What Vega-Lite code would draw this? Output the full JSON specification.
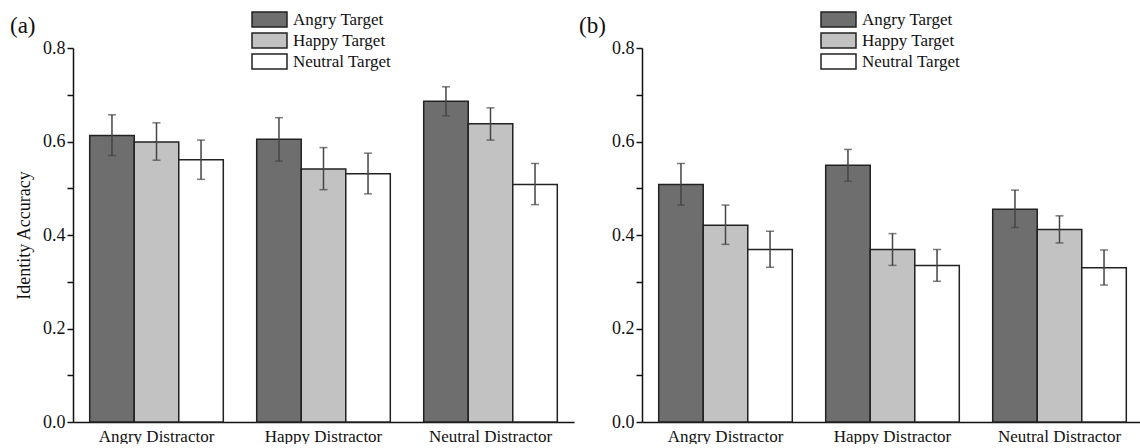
{
  "$schema": "https://vega.github.io/schema/vega-lite/v6.json",
  "padding": {"left": 10, "top": 10, "right": 0, "bottom": 0},
  "background": "white",
  "datasets": {
    "a": [
      {"distractor": "Angry Distractor", "target": "Angry Target", "value": 0.613, "lo": 0.570, "hi": 0.657},
      {"distractor": "Angry Distractor", "target": "Happy Target", "value": 0.599, "lo": 0.560, "hi": 0.640},
      {"distractor": "Angry Distractor", "target": "Neutral Target", "value": 0.561, "lo": 0.519, "hi": 0.603},
      {"distractor": "Happy Distractor", "target": "Angry Target", "value": 0.605, "lo": 0.558, "hi": 0.651},
      {"distractor": "Happy Distractor", "target": "Happy Target", "value": 0.541, "lo": 0.497, "hi": 0.587},
      {"distractor": "Happy Distractor", "target": "Neutral Target", "value": 0.531, "lo": 0.488, "hi": 0.575},
      {"distractor": "Neutral Distractor", "target": "Angry Target", "value": 0.686, "lo": 0.655, "hi": 0.717},
      {"distractor": "Neutral Distractor", "target": "Happy Target", "value": 0.638, "lo": 0.603, "hi": 0.672},
      {"distractor": "Neutral Distractor", "target": "Neutral Target", "value": 0.508, "lo": 0.465, "hi": 0.553}
    ],
    "b": [
      {"distractor": "Angry Distractor", "target": "Angry Target", "value": 0.508, "lo": 0.464, "hi": 0.553},
      {"distractor": "Angry Distractor", "target": "Happy Target", "value": 0.421, "lo": 0.380, "hi": 0.464},
      {"distractor": "Angry Distractor", "target": "Neutral Target", "value": 0.369, "lo": 0.331, "hi": 0.408},
      {"distractor": "Happy Distractor", "target": "Angry Target", "value": 0.549, "lo": 0.515, "hi": 0.583},
      {"distractor": "Happy Distractor", "target": "Happy Target", "value": 0.369, "lo": 0.335, "hi": 0.403},
      {"distractor": "Happy Distractor", "target": "Neutral Target", "value": 0.335, "lo": 0.301, "hi": 0.369},
      {"distractor": "Neutral Distractor", "target": "Angry Target", "value": 0.455, "lo": 0.416, "hi": 0.496},
      {"distractor": "Neutral Distractor", "target": "Happy Target", "value": 0.412, "lo": 0.383, "hi": 0.441},
      {"distractor": "Neutral Distractor", "target": "Neutral Target", "value": 0.330, "lo": 0.293, "hi": 0.368}
    ]
  },
  "bounds": "flush",
  "spacing": 68,
  "resolve": {"scale": {"color": "independent"}, "legend": {"color": "independent"}},
  "hconcat": [
    {
      "data": {"name": "a"},
      "width": 501,
      "height": 374,
      "title": {"text": "(a)", "anchor": "start", "frame": "group", "dx": -63, "offset": 0, "dy": 28},
      "encoding": {
        "x": {"field": "distractor", "type": "nominal", "sort": ["Angry Distractor", "Happy Distractor", "Neutral Distractor"], "scale": {"paddingInner": 0.2, "paddingOuter": 0.1}, "axis": {"title": null, "ticks": false, "labelPadding": 6, "labelAngle": 0, "labelFontSize": 17}},
        "xOffset": {"field": "target", "type": "nominal", "sort": ["Angry Target", "Happy Target", "Neutral Target"], "scale": {"paddingInner": 0, "paddingOuter": 0}}
      },
      "layer": [
        {
          "mark": {"type": "bar", "stroke": "#222", "strokeWidth": 1.5},
          "encoding": {
            "y": {"field": "value", "type": "quantitative", "scale": {"domain": [0, 0.8], "nice": false}, "axis": {"title": "Identity Accuracy", "values": [0, 0.1, 0.2, 0.3, 0.4, 0.5, 0.6, 0.7, 0.8], "labelExpr": "round(datum.value*10) % 2 == 0 ? format(datum.value, '.1f') : ''", "titlePadding": 9}},
            "color": {"field": "target", "type": "nominal", "scale": {"domain": ["Angry Target", "Happy Target", "Neutral Target"], "range": ["#6e6e6e", "#c2c2c2", "#ffffff"]}, "legend": {"orient": "none", "legendX": 187, "legendY": -38}}
          }
        },
        {
          "mark": {"type": "rule", "color": "#444", "strokeWidth": 1.5},
          "encoding": {"y": {"field": "lo", "type": "quantitative"}, "y2": {"field": "hi"}}
        },
        {
          "mark": {"type": "tick", "color": "#444", "size": 8, "thickness": 1.5, "orient": "horizontal"},
          "encoding": {"y": {"field": "lo", "type": "quantitative"}}
        },
        {
          "mark": {"type": "tick", "color": "#444", "size": 8, "thickness": 1.5, "orient": "horizontal"},
          "encoding": {"y": {"field": "hi", "type": "quantitative"}}
        }
      ]
    },
    {
      "data": {"name": "b"},
      "width": 501,
      "height": 374,
      "title": {"text": "(b)", "anchor": "start", "frame": "group", "dx": -63, "offset": 0, "dy": 28},
      "encoding": {
        "x": {"field": "distractor", "type": "nominal", "sort": ["Angry Distractor", "Happy Distractor", "Neutral Distractor"], "scale": {"paddingInner": 0.2, "paddingOuter": 0.1}, "axis": {"title": null, "ticks": false, "labelPadding": 6, "labelAngle": 0, "labelFontSize": 17}},
        "xOffset": {"field": "target", "type": "nominal", "sort": ["Angry Target", "Happy Target", "Neutral Target"], "scale": {"paddingInner": 0, "paddingOuter": 0}}
      },
      "layer": [
        {
          "mark": {"type": "bar", "stroke": "#222", "strokeWidth": 1.5},
          "encoding": {
            "y": {"field": "value", "type": "quantitative", "scale": {"domain": [0, 0.8], "nice": false}, "axis": {"title": null, "values": [0, 0.1, 0.2, 0.3, 0.4, 0.5, 0.6, 0.7, 0.8], "labelExpr": "round(datum.value*10) % 2 == 0 ? format(datum.value, '.1f') : ''"}},
            "color": {"field": "target", "type": "nominal", "scale": {"domain": ["Angry Target", "Happy Target", "Neutral Target"], "range": ["#6e6e6e", "#c2c2c2", "#ffffff"]}, "legend": {"orient": "none", "legendX": 187, "legendY": -38}}
          }
        },
        {
          "mark": {"type": "rule", "color": "#444", "strokeWidth": 1.5},
          "encoding": {"y": {"field": "lo", "type": "quantitative"}, "y2": {"field": "hi"}}
        },
        {
          "mark": {"type": "tick", "color": "#444", "size": 8, "thickness": 1.5, "orient": "horizontal"},
          "encoding": {"y": {"field": "lo", "type": "quantitative"}}
        },
        {
          "mark": {"type": "tick", "color": "#444", "size": 8, "thickness": 1.5, "orient": "horizontal"},
          "encoding": {"y": {"field": "hi", "type": "quantitative"}}
        }
      ]
    }
  ],
  "config": {
    "font": "Liberation Serif",
    "view": {"stroke": null},
    "axis": {"labelFont": "Liberation Serif", "labelFontSize": 18, "labelColor": "#111", "titleFont": "Liberation Serif", "titleFontSize": 18, "titleFontWeight": "normal", "titleColor": "#111", "domainColor": "#111", "domainWidth": 1.5, "tickColor": "#111", "tickWidth": 1.5, "tickSize": 6, "labelPadding": 2, "grid": false},
    "legend": {"title": null, "symbolType": "M-2,-0.86H2V0.86H-2Z", "symbolSize": 306, "symbolStrokeColor": "#222", "symbolStrokeWidth": 1.5, "symbolOpacity": 1, "labelFont": "Liberation Serif", "labelFontSize": 17, "labelColor": "#111", "labelOffset": 14, "rowPadding": -2},
    "title": {"font": "Liberation Serif", "fontSize": 23, "fontWeight": "normal", "color": "#111"}
  }
}
